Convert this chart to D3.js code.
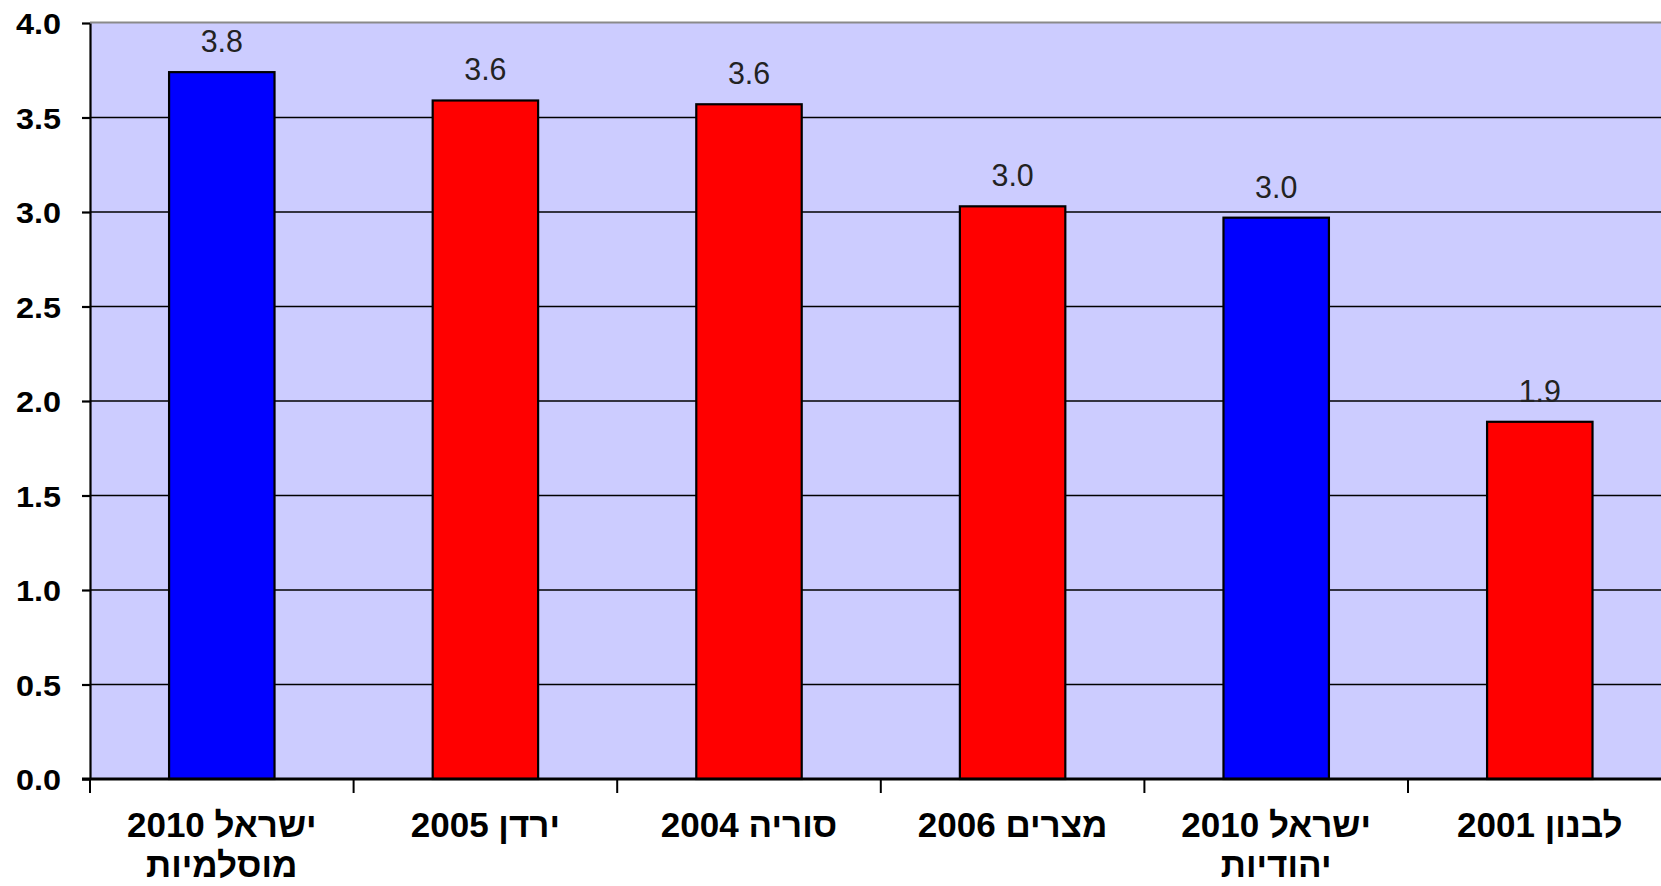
<!DOCTYPE html>
<html>
<head>
<meta charset="utf-8">
<script src="https://cdn.jsdelivr.net/npm/d3@7"></script>
<style>
  html, body { margin: 0; padding: 0; background: #ffffff; overflow: hidden; }
  svg { display: block; font-family: "Liberation Sans", Arial, sans-serif; }
</style>
</head>
<body>
<svg id="chart" width="1661" height="886"></svg>
<script>
// ---- data ----
const categories = [
  ["ישראל 2010", "מוסלמיות"],
  ["ירדן 2005"],
  ["סוריה 2004"],
  ["מצרים 2006"],
  ["ישראל 2010", "יהודיות"],
  ["לבנון 2001"]
];
const groups = ["ישראל", "ערב", "ערב", "ערב", "ישראל", "ערב"];
const values = [3.74, 3.59, 3.57, 3.03, 2.97, 1.89];
const valueLabels = ["3.8", "3.6", "3.6", "3.0", "3.0", "1.9"];
const yTicks = [0.0, 0.5, 1.0, 1.5, 2.0, 2.5, 3.0, 3.5, 4.0];

// ---- layout ----
const plotLeft = 90, plotTop = 23, plotBottom = 779, step = 263.6;
const plotRight = plotLeft + step * categories.length;

const svg = d3.select("#chart");

const x = d3.scaleBand()
  .domain(d3.range(categories.length))
  .range([plotLeft, plotRight])
  .paddingInner(0.6)
  .paddingOuter(0.3);
const xb = d3.scaleLinear().domain([0, categories.length]).range([plotLeft, plotRight]);
const y = d3.scaleLinear().domain([0, 4]).range([plotBottom, plotTop]);
const color = d3.scaleOrdinal().domain(["ישראל", "ערב"]).range(["#0000ff", "#ff0000"]);

// plot background
svg.append("rect")
  .attr("x", plotLeft).attr("y", y(4))
  .attr("width", plotRight - plotLeft).attr("height", y(0) - y(4))
  .attr("fill", "#ccccff");

// top border
svg.append("line")
  .attr("x1", plotLeft).attr("x2", plotRight)
  .attr("y1", y(4) - 0.5).attr("y2", y(4) - 0.5)
  .attr("stroke", "#8a8a8a").attr("stroke-width", 2);

// gridlines
svg.append("g").selectAll("line")
  .data(yTicks.filter(d => d > 0 && d < 4))
  .join("line")
  .attr("x1", plotLeft).attr("x2", plotRight)
  .attr("y1", d => y(d)).attr("y2", d => y(d))
  .attr("stroke", "#000").attr("stroke-width", 1.4);

// bars
svg.append("g").selectAll("rect")
  .data(values)
  .join("rect")
  .attr("x", (d, i) => x(i))
  .attr("y", d => y(d))
  .attr("width", x.bandwidth())
  .attr("height", d => y(0) - y(d))
  .attr("fill", (d, i) => color(groups[i]))
  .attr("stroke", "#000")
  .attr("stroke-width", 2.2);

// value labels
svg.append("g").selectAll("g")
  .data(values)
  .join("g")
  .attr("transform", (d, i) => `translate(${x(i) + x.bandwidth() / 2},${y(d) - 20}) scale(0.95,1)`)
  .append("text")
  .attr("text-anchor", "middle")
  .attr("font-size", 32)
  .attr("fill", "#222")
  .text((d, i) => valueLabels[i]);

// y axis
const yAxis = svg.append("g")
  .attr("transform", `translate(${plotLeft},0)`)
  .call(d3.axisLeft(y).tickValues(yTicks).tickFormat(d3.format(".1f")).tickSize(8).tickSizeOuter(0));
yAxis.select(".domain").attr("stroke", "#000").attr("stroke-width", 2.2);
yAxis.selectAll(".tick line").attr("stroke", "#000").attr("stroke-width", 2.2);
yAxis.selectAll(".tick text")
  .attr("x", 0).attr("dy", "0.36em")
  .attr("transform", "translate(-29,0) scale(1.08,1)")
  .attr("font-size", 30)
  .attr("font-weight", "bold")
  .attr("font-family", "'Liberation Sans', Arial, sans-serif")
  .attr("fill", "#000");

// x axis line + boundary ticks
svg.append("line")
  .attr("x1", plotLeft - 8).attr("x2", plotRight)
  .attr("y1", y(0)).attr("y2", y(0))
  .attr("stroke", "#000").attr("stroke-width", 3);
svg.append("g").selectAll("line")
  .data(d3.range(categories.length + 1))
  .join("line")
  .attr("x1", d => xb(d)).attr("x2", d => xb(d))
  .attr("y1", y(0)).attr("y2", y(0) + 14)
  .attr("stroke", "#000").attr("stroke-width", 2);

// category labels
const cat = svg.append("g").selectAll("g")
  .data(categories)
  .join("g")
  .attr("transform", (d, i) => `translate(${x(i) + x.bandwidth() / 2},0)`);
cat.selectAll("text")
  .data(d => d)
  .join("text")
  .attr("transform", (d, j) => `translate(0,${837 + j * 40})`)
  .attr("text-anchor", "middle")
  .attr("direction", "rtl")
  .attr("font-size", 35)
  .attr("font-weight", "bold")
  .attr("fill", "#000")
  .text(d => d);
</script>
</body>
</html>
